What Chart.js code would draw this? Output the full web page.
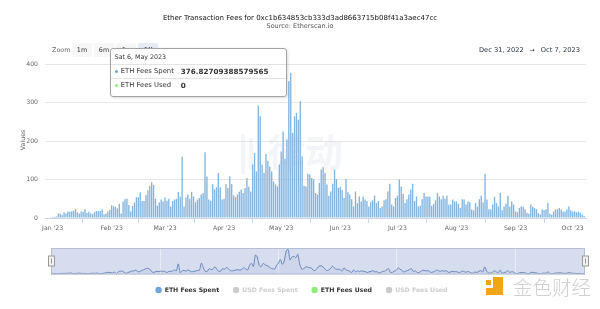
<!DOCTYPE html>
<html lang="en">
<head>
<meta charset="utf-8">
<title>Ether Transaction Fees</title>
<script src="https://cdn.jsdelivr.net/npm/chart.js@4.4.1/dist/chart.umd.min.js"></script>
<style>
	html, body { margin: 0; padding: 0; background: #fff; }
	body { position: relative; width: 600px; height: 309px; overflow: hidden; font-family: "DejaVu Sans", sans-serif; }
	.abs { position: absolute; white-space: nowrap; }
	#main-wrap { position: absolute; left: 0; top: 0; width: 600px; height: 309px; }
	#nav-wrap { position: absolute; left: 0; top: 244px; width: 600px; height: 34px; }

	.chart-title { left: 0; width: 600px; text-align: center; }
	#title { top: 13px; font-size: 7px; line-height: 10px; color: #111; }
	#subtitle { top: 22px; font-size: 6.5px; line-height: 9px; color: #555; }

	#zoom-label { left: 52px; top: 45px; font-size: 6.4px; line-height: 10px; color: #666; }
	.range-btn { top: 43px; width: 20px; height: 14px; line-height: 14px; text-align: center; font-size: 6.4px; color: #333; background: #f7f7f7; border-radius: 2px; }
	.range-btn.selected { background: #e6ebf5; font-weight: bold; }
	#date-range { right: 20px; top: 45px; font-size: 6.7px; line-height: 10px; color: #2b3445; }
	#date-range .arrow { margin: 0 6px; font-size: 6px; }

	#y-title { left: 22px; top: 140px; font-size: 6.3px; color: #666; transform: translate(-50%, -50%) rotate(-90deg); }

	/* Tooltip */
	#tip { position: absolute; display: none; width: 177px; height: 49px; box-sizing: border-box; background: rgba(255,255,255,0.97);
		border: 1px solid #a3a3a3; border-radius: 3px; box-shadow: 1px 1px 3px rgba(0,0,0,0.15); color: #333; z-index: 10; }
	.tip-head { height: 15px; line-height: 15px; font-size: 6.3px; padding-left: 4px; border-bottom: 1px solid #e3e3e3; }
	.tip-row { height: 13px; line-height: 13px; display: flex; padding-left: 4px; }
	.tip-row + .tip-row { border-top: 1px solid #e3e3e3; }
	.tip-label { width: 66px; font-size: 6.8px; }
	.tip-label i { display: inline-block; width: 3px; height: 3px; border-radius: 50%; margin: 0 3px 1px 0; vertical-align: middle; }
	.tip-val { font-size: 7.2px; font-weight: bold; }

	/* Watermarks */
	#wm-center { left: 241px; top: 128px; color: rgba(160,180,210,0.13); }
	#wm-center .bar { position: absolute; width: 4px; background: rgba(160,180,210,0.13); }
	#wm-center .txt { position: absolute; left: 26px; top: 0; font-family: "Noto Sans CJK SC", sans-serif; font-size: 38px; line-height: 44px; font-weight: bold; }
	#wm-logo { left: 486px; top: 277px; width: 17px; height: 18px; }
	#wm-logo span { position: absolute; background: #f2a516; }
	#wm-text { left: 513px; top: 274px; font-family: "Noto Sans CJK SC", sans-serif; font-size: 19.5px; line-height: 26px; color: #d0d0d0; font-weight: 300; }
</style>
</head>
<body>
	<div id="main-wrap"><canvas id="main-chart"></canvas></div>
	<div id="nav-wrap"><canvas id="nav-chart"></canvas></div>

	<div id="title" class="abs chart-title">Ether Transaction Fees for 0xc1b634853cb333d3ad8663715b08f41a3aec47cc</div>
	<div id="subtitle" class="abs chart-title">Source: Etherscan.io</div>

	<div id="zoom-label" class="abs">Zoom</div>
	<div class="abs range-btn" style="left:72px">1m</div>
	<div class="abs range-btn" style="left:94px">6m</div>
	<div class="abs range-btn" style="left:116px">1y</div>
	<div class="abs range-btn selected" style="left:138px">All</div>
	<div id="date-range" class="abs">Dec 31, 2022<span class="arrow">→</span>Oct 7, 2023</div>

	<div id="y-title" class="abs">Values</div>

	<div id="wm-center" class="abs">
		<span class="bar" style="left:0; top:6px; height:40px"></span>
		<span class="bar" style="left:8px; top:10px; height:32px"></span>
		<span class="bar" style="left:16px; top:14px; height:24px"></span>
		<span class="txt">律动</span>
	</div>
	<div id="wm-logo" class="abs">
		<span style="left:0; top:3px; width:5px; height:5px"></span>
		<span style="left:7px; top:0; width:10px; height:18px"></span>
		<span style="left:0; top:11px; width:17px; height:7px"></span>
	</div>
	<div id="wm-text" class="abs">金色财经</div>

	<div id="tip"></div>

<script>
	const family = '"DejaVu Sans", sans-serif';
	Chart.defaults.font.family = family;

	/***************************************
	       Daily ETH fees (Dec 31 - Oct 7)
	***************************************/

	const startDate = new Date(2022, 11, 31);

	const dec = [2];
	const jan = [3, 3, 4, 12, 11, 8, 15, 12, 17, 16, 17, 19, 23, 15, 12, 17, 16, 23, 13, 16, 12, 10, 15, 18, 18, 18, 22, 10, 12, 17, 21];
	const feb = [33, 30, 29, 25, 37, 12, 43, 49, 50, 34, 17, 31, 40, 54, 54, 67, 44, 44, 60, 72, 84, 93, 86, 50, 32, 40, 48, 43];
	const mar = [53, 45, 50, 30, 44, 48, 50, 67, 56, 160, 30, 54, 61, 50, 68, 56, 41, 48, 52, 61, 65, 171, 108, 48, 45, 88, 74, 80, 117, 80, 48];
	const apr = [50, 88, 78, 108, 88, 59, 54, 61, 68, 74, 65, 78, 104, 82, 69, 139, 169, 121, 292, 264, 139, 117, 166, 149, 134, 121, 95, 87, 82, 139];
	const may = [173, 225, 154, 204, 355, 376.82709388579565, 221, 264, 273, 255, 303, 160, 84, 82, 115, 113, 104, 100, 65, 61, 91, 126, 132, 117, 87, 58, 69, 89, 126, 101, 78];
	const jun = [81, 72, 52, 101, 67, 61, 49, 30, 69, 39, 56, 43, 55, 48, 44, 30, 41, 46, 58, 39, 44, 26, 30, 46, 49, 69, 89, 35, 30, 52];
	const jul = [58, 100, 82, 63, 39, 49, 61, 74, 89, 44, 56, 30, 32, 49, 65, 55, 56, 55, 32, 37, 46, 65, 56, 49, 58, 50, 58, 35, 35, 48, 43];
	const aug = [43, 37, 26, 49, 48, 35, 43, 41, 22, 20, 39, 30, 49, 58, 40, 115, 48, 23, 22, 35, 55, 39, 30, 65, 20, 30, 37, 58, 30, 43, 35];
	const sep = [17, 15, 26, 30, 29, 23, 13, 11, 35, 29, 26, 23, 13, 9, 22, 20, 23, 39, 11, 9, 17, 22, 23, 26, 22, 17, 17, 23, 30, 20];
	const oct = [17, 17, 15, 16, 13, 9, 5];

	const ethSpent = [].concat(dec, jan, feb, mar, apr, may, jun, jul, aug, sep, oct);

	// Only the hovered day of "ETH Fees Used" can be read (tooltip says 0)
	const ethUsedPoints = [{ day: 126, value: 0 }];

	// Axis ticks (day index counted from Dec 31, 2022)
	const monthTicks = [1, 32, 60, 91, 121, 152, 182, 213, 244, 274];
	const monthLabels = ["Jan '23", "Feb '23", "Mar '23", "Apr '23", "May '23", "Jun '23", "Jul '23", "Aug '23", "Sep '23", "Oct '23"];
	const navTicks = [60, 121, 182, 244];
	const navLabels = ["Mar '23", "May '23", "Jul '23", "Sep '23"];
	const yTicks = [0, 100, 200, 300, 400];

	const hoverDay = 126; // Sat 6, May 2023

	/***************************************
	              Helpers
	***************************************/

	const dayNames = ['Sun', 'Mon', 'Tue', 'Wed', 'Thu', 'Fri', 'Sat'];
	const monthNames = ['Jan', 'Feb', 'Mar', 'Apr', 'May', 'Jun', 'Jul', 'Aug', 'Sep', 'Oct', 'Nov', 'Dec'];

	function dayDate(i) {
		return new Date(startDate.getFullYear(), startDate.getMonth(), startDate.getDate() + i);
	}

	function formatDay(d) {
		return `${dayNames[d.getDay()]} ${d.getDate()}, ${monthNames[d.getMonth()]} ${d.getFullYear()}`;
	}

	// Html tooltip, placed left of the hovered bar
	function drawTip(context) {
		const tip = context.tooltip;
		const box = document.getElementById('tip');
		if (tip.opacity === 0 || !tip.dataPoints || !tip.dataPoints.length) {
			box.style.display = 'none';
			return;
		}
		const first = tip.dataPoints[0];
		let html = `<div class="tip-head">${formatDay(dayDate(first.raw.x))}</div>`;
		tip.dataPoints.forEach(p => {
			html += `<div class="tip-row"><span class="tip-label"><i style="background:${p.dataset.legendColor}"></i>${p.dataset.label}</span><span class="tip-val">${p.raw.y}</span></div>`;
		});
		box.innerHTML = html;
		box.style.display = 'block';
		box.style.left = (first.element.x - 4 - box.offsetWidth) + 'px';
		box.style.top = (first.element.y - box.offsetHeight / 2) + 'px';
	}

	/***************************************
	              Main chart
	***************************************/

	const mainChart = new Chart(document.getElementById('main-chart'), {
		type: 'bar',
		data: {
			datasets: [{
				label: 'ETH Fees Spent',
				data: ethSpent.map((v, i) => ({ x: i, y: v })),
				backgroundColor: '#84b5df',
				legendColor: '#6ea6da',
				borderWidth: 0,
				barPercentage: 0.72,
				categoryPercentage: 1,
				grouped: false
			}, {
				label: 'USD Fees Spent',
				data: [],
				hidden: true,
				backgroundColor: '#434348',
				legendColor: '#434348'
			}, {
				label: 'ETH Fees Used',
				data: ethUsedPoints.map(p => ({ x: p.day, y: p.value })),
				backgroundColor: '#90ed7d',
				legendColor: '#90ed7d',
				borderWidth: 0,
				barPercentage: 0.72,
				categoryPercentage: 1,
				grouped: false
			}, {
				label: 'USD Fees Used',
				data: [],
				hidden: true,
				backgroundColor: '#f7a35c',
				legendColor: '#f7a35c'
			}]
		},
		options: {
			responsive: true,
			maintainAspectRatio: false,
			animation: false,
			events: [],
			layout: { padding: { top: 64, left: 17, right: 14, bottom: 5.9 } },
			scales: {
				x: {
					type: 'linear',
					min: -3,
					max: 281,
					offset: false,
					afterBuildTicks: axis => { axis.ticks = monthTicks.map(v => ({ value: v })); },
					afterFit: scale => { scale.height = 54.9; },
					grid: { drawOnChartArea: false, drawTicks: true, tickLength: 5, color: '#ccd6eb' },
					border: { display: true, color: '#ccd6eb' },
					ticks: {
						callback: (v, i) => monthLabels[i],
						color: '#666',
						font: { size: 6.2 },
						padding: 2,
						maxRotation: 0,
						autoSkip: false
					}
				},
				y: {
					min: 0,
					max: 400,
					afterBuildTicks: axis => { axis.ticks = yTicks.map(v => ({ value: v })); },
					afterFit: scale => { scale.width = 28; },
					grid: { color: '#e6e6e6', drawTicks: false },
					border: { display: false },
					ticks: { color: '#666', font: { size: 6.2 }, padding: 7 }
				}
			},
			plugins: {
				legend: {
					position: 'bottom',
					labels: {
						usePointStyle: true,
						pointStyle: 'circle',
						boxWidth: 6,
						boxHeight: 4.5,
						padding: 14,
						font: { size: 6.2, weight: 'bold' },
						generateLabels: chart => chart.data.datasets.map((ds, i) => {
							const off = !chart.isDatasetVisible(i);
							return {
								text: ds.label,
								fillStyle: off ? '#cccccc' : ds.legendColor,
								strokeStyle: off ? '#cccccc' : ds.legendColor,
								lineWidth: 0,
								fontColor: off ? '#cccccc' : '#333333',
								hidden: false,
								pointStyle: 'circle',
								datasetIndex: i
							};
						})
					}
				},
				tooltip: { enabled: false, external: drawTip, mode: 'index', intersect: false }
			}
		}
	});

	// Show the tooltip for the hovered day
	const hoverEl = mainChart.getDatasetMeta(0).data[hoverDay];
	mainChart.tooltip.setActiveElements(
		[{ datasetIndex: 0, index: hoverDay }, { datasetIndex: 2, index: 0 }],
		{ x: hoverEl.x, y: hoverEl.y }
	);
	mainChart.update();

	/***************************************
	              Navigator
	***************************************/

	const navigatorFrame = {
		id: 'navigatorFrame',
		beforeDraw(chart) {
			const a = chart.chartArea, ctx = chart.ctx;
			ctx.save();
			ctx.fillStyle = '#d5ddee';
			ctx.fillRect(a.left, a.top, a.right - a.left, a.bottom - a.top);
			ctx.restore();
		},
		afterDraw(chart) {
			const a = chart.chartArea, ctx = chart.ctx;
			const mid = Math.round((a.top + a.bottom) / 2);
			ctx.save();
			ctx.strokeStyle = '#b5bfd3';
			ctx.lineWidth = 1;
			ctx.strokeRect(a.left + 0.5, a.top + 0.5, a.right - a.left - 1, a.bottom - a.top - 1);
			[a.left, a.right].forEach(x => {
				x = Math.round(x) + 0.5;
				ctx.fillStyle = '#f2f2f2';
				ctx.strokeStyle = '#999';
				ctx.fillRect(x - 3, mid - 5, 6, 10);
				ctx.strokeRect(x - 3, mid - 5, 6, 10);
				ctx.beginPath();
				ctx.moveTo(x, mid - 2.5);
				ctx.lineTo(x, mid + 2.5);
				ctx.stroke();
			});
			ctx.restore();
		}
	};

	new Chart(document.getElementById('nav-chart'), {
		type: 'line',
		data: {
			datasets: [{
				data: ethSpent.map((v, i) => ({ x: i, y: v })),
				borderColor: '#6480b6',
				borderWidth: 0.9,
				pointRadius: 0,
				tension: 0.35,
				fill: true,
				backgroundColor: 'rgba(51,92,173,0.05)'
			}]
		},
		options: {
			responsive: true,
			maintainAspectRatio: false,
			animation: false,
			events: [],
			layout: { padding: { top: 4, left: 51, right: 15, bottom: 3.5 } },
			scales: {
				x: {
					type: 'linear',
					min: 3,
					max: 280,
					afterBuildTicks: axis => { axis.ticks = navTicks.map(v => ({ value: v })); },
					afterFit: scale => { scale.height = 0; },
					grid: { color: '#e9edf5', drawTicks: false },
					border: { display: false },
					ticks: {
						callback: (v, i) => navLabels[i],
						align: 'start',
						labelOffset: 3,
						padding: -9,
						color: '#7a7a7a',
						font: { size: 6 },
						maxRotation: 0,
						autoSkip: false
					}
				},
				y: { display: false, min: 0, max: 400 }
			},
			plugins: { legend: { display: false }, tooltip: { enabled: false } }
		},
		plugins: [navigatorFrame]
	});
</script>
</body>
</html>
